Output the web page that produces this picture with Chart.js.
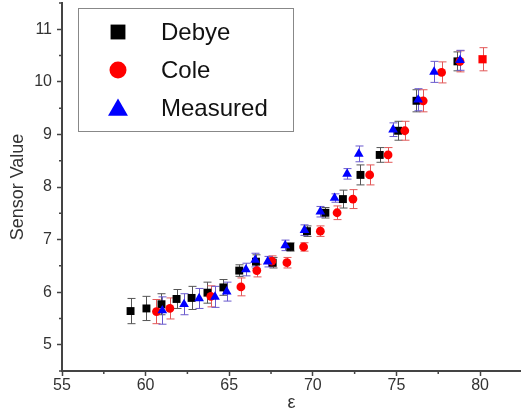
<!DOCTYPE html>
<html>
<head>
<meta charset="utf-8">
<script src="https://cdn.jsdelivr.net/npm/chart.js@4/dist/chart.umd.min.js"></script>
<style>
  html, body { margin: 0; padding: 0; background: #fff; }
  #wrap { width: 521px; height: 412px; }
</style>
</head>
<body>
<div id="wrap"><canvas id="chart" width="521" height="412"></canvas></div>
<script>
// Debye model
const debyeX = [59.1, 60.05, 60.95, 61.85, 62.75, 63.7, 64.65, 65.6, 66.6, 67.6, 68.65, 69.65, 70.75, 71.8, 72.85, 74.0, 75.1, 76.2, 78.65];
const debyeY = [5.64, 5.69, 5.77, 5.87, 5.89, 5.99, 6.09, 6.41, 6.58, 6.56, 6.86, 7.16, 7.51, 7.77, 8.23, 8.61, 9.07, 9.64, 10.39];
const debyeErr = [0.24, 0.23, 0.2, 0.18, 0.22, 0.2, 0.15, 0.11, 0.13, 0.1, 0.08, 0.1, 0.1, 0.17, 0.19, 0.14, 0.18, 0.21, 0.18];

// Cole model
const coleX = [60.65, 61.45, 63.9, 65.7, 66.65, 67.55, 68.45, 69.45, 70.45, 71.45, 72.4, 73.4, 74.5, 75.5, 76.6, 77.7, 78.8, 80.15];
const coleY = [5.63, 5.69, 5.92, 6.10, 6.41, 6.59, 6.56, 6.86, 7.16, 7.51, 7.77, 8.23, 8.61, 9.07, 9.64, 10.18, 10.39, 10.43];
const coleErr = [0.23, 0.2, 0.2, 0.17, 0.12, 0.1, 0.1, 0.08, 0.1, 0.13, 0.18, 0.19, 0.14, 0.18, 0.21, 0.2, 0.2, 0.22];

// measured
const measX = [61.0, 62.3, 63.2, 64.15, 64.85, 66.0, 66.55, 67.3, 68.35, 69.5, 70.45, 71.3, 72.05, 72.75, 74.8, 76.3, 77.25, 78.8];
const measY = [5.65, 5.77, 5.88, 5.91, 6.01, 6.43, 6.61, 6.58, 6.89, 7.18, 7.53, 7.79, 8.25, 8.63, 9.09, 9.66, 10.19, 10.41];
const measErr = [0.26, 0.2, 0.19, 0.2, 0.18, 0.12, 0.13, 0.1, 0.1, 0.1, 0.1, 0.08, 0.1, 0.15, 0.13, 0.21, 0.2, 0.19];

const xTicks = [55, 60, 65, 70, 75, 80];
const yTicks = [5, 6, 7, 8, 9, 10, 11];

const FONT = "'Liberation Sans', Arial, sans-serif";

function pts(xs, ys) {
    return xs.map((x, i) => ({ x: x, y: ys[i] }));
}

// vertical error bars with caps, under the markers
const errorBars = {
    id: "errorBars",
    beforeDatasetsDraw(chart) {
        const { ctx, scales: { x, y } } = chart;
        chart.data.datasets.forEach(ds => {
            ctx.save();
            ctx.strokeStyle = ds.errColor;
            ctx.lineWidth = 1;
            ds.data.forEach((p, i) => {
                const px = Math.round(x.getPixelForValue(p.x)) + 0.5;
                const top = y.getPixelForValue(p.y + ds.errors[i]);
                const bot = y.getPixelForValue(p.y - ds.errors[i]);
                ctx.beginPath();
                ctx.moveTo(px, top);
                ctx.lineTo(px, bot);
                ctx.moveTo(px - 4, top);
                ctx.lineTo(px + 4, top);
                ctx.moveTo(px - 4, bot);
                ctx.lineTo(px + 4, bot);
                ctx.stroke();
            });
            ctx.restore();
        });
    }
};

// minor ticks halfway between the major ones
const minorTicks = {
    id: "minorTicks",
    afterDraw(chart) {
        const { ctx, chartArea, scales: { x, y } } = chart;
        ctx.save();
        ctx.strokeStyle = "#444";
        ctx.lineWidth = 1.5;
        ctx.beginPath();
        xTicks.forEach(v => {
            const px = x.getPixelForValue(v + 2.5);
            if (px > chartArea.right) return;
            ctx.moveTo(px, chartArea.bottom);
            ctx.lineTo(px, chartArea.bottom + 3);
        });
        [4].concat(yTicks).forEach(v => {
            const py = y.getPixelForValue(v + 0.5);
            if (py < chartArea.top - 1 || py > chartArea.bottom) return;
            ctx.moveTo(chartArea.left, py);
            ctx.lineTo(chartArea.left - 3, py);
        });
        ctx.stroke();
        ctx.restore();
    }
};

// boxed legend in the upper left of the plot
const boxLegend = {
    id: "boxLegend",
    afterDraw(chart) {
        const ctx = chart.ctx;
        ctx.save();
        ctx.strokeStyle = "#888";
        ctx.lineWidth = 1;
        ctx.strokeRect(78.5, 8.5, 215, 123);
        const sizes = [10.5, 8.5, 11.5];
        chart.data.datasets.forEach((ds, i) => {
            const cy = 32 + i * 38;
            ctx.fillStyle = ds.backgroundColor;
            ctx.strokeStyle = ds.backgroundColor;
            Chart.helpers.drawPoint(ctx, {
                pointStyle: ds.legendStyle, radius: sizes[i], rotation: 0, borderWidth: 0
            }, 118, cy + (ds.legendStyle === "triangle" ? 2 : 0));
            ctx.fillStyle = "#111";
            ctx.font = "24px " + FONT;
            ctx.textBaseline = "middle";
            ctx.textAlign = "left";
            ctx.fillText(ds.label, 161, cy + 1);
        });
        ctx.restore();
    }
};

const chart = new Chart(document.getElementById("chart"), {
    type: "scatter",
    data: {
        datasets: [
            {
                label: "Debye", data: pts(debyeX, debyeY), errors: debyeErr, errColor: "#555",
                pointStyle: "rect", legendStyle: "rect", pointRadius: 5.6, pointHoverRadius: 5.6,
                backgroundColor: "#000000", borderColor: "#000000", borderWidth: 0, order: 3
            },
            {
                label: "Cole", data: pts(coleX, coleY), errors: coleErr, errColor: "#e25858",
                pointStyle: c => c.dataIndex === coleX.length - 1 ? "rect" : "circle",
                legendStyle: "circle",
                pointRadius: c => c.dataIndex === coleX.length - 1 ? 5.8 : 4.4,
                backgroundColor: "#ff0000", borderColor: "#ff0000", borderWidth: 0, order: 2
            },
            {
                label: "Measured", data: pts(measX, measY), errors: measErr, errColor: "#6a5acd",
                pointStyle: "triangle", legendStyle: "triangle", pointRadius: 5.6, pointHoverRadius: 5.6,
                backgroundColor: "#0000ff", borderColor: "#0000ff", borderWidth: 0, order: 1
            }
        ]
    },
    options: {
        responsive: false,
        animation: false,
        devicePixelRatio: 1,
        layout: { autoPadding: false, padding: { top: 3, right: 0, left: 0, bottom: 0 } },
        plugins: { legend: { display: false }, tooltip: { enabled: false } },
        scales: {
            x: {
                type: "linear", min: 55, max: 82.45,
                afterBuildTicks: s => { s.ticks = xTicks.map(v => ({ value: v })); },
                afterFit: s => { s.height = 41; s.paddingLeft = 0; s.paddingRight = 0; },
                grid: { drawOnChartArea: false, tickLength: 5, tickWidth: 1.5, color: "#444" },
                border: { color: "#444", width: 2 },
                ticks: { font: { size: 16, family: FONT }, color: "#333", padding: 0 },
                title: { display: true, text: "ε", font: { size: 18, family: FONT, lineHeight: 1 }, color: "#333", padding: 0 }
            },
            y: {
                type: "linear", min: 4.5, max: 11.5,
                afterBuildTicks: s => { s.ticks = yTicks.map(v => ({ value: v })); },
                afterFit: s => { s.width = 62; s.paddingTop = 0; s.paddingBottom = 0; },
                grid: { drawOnChartArea: false, tickLength: 5, tickWidth: 1.5, color: "#444" },
                border: { color: "#444", width: 2 },
                ticks: { font: { size: 16, family: FONT }, color: "#333", padding: 5 },
                title: { display: true, text: "Sensor Value", font: { size: 18, family: FONT }, color: "#333", padding: { top: 7, bottom: 0 } }
            }
        }
    },
    plugins: [errorBars, minorTicks, boxLegend]
});
</script>
</body>
</html>
